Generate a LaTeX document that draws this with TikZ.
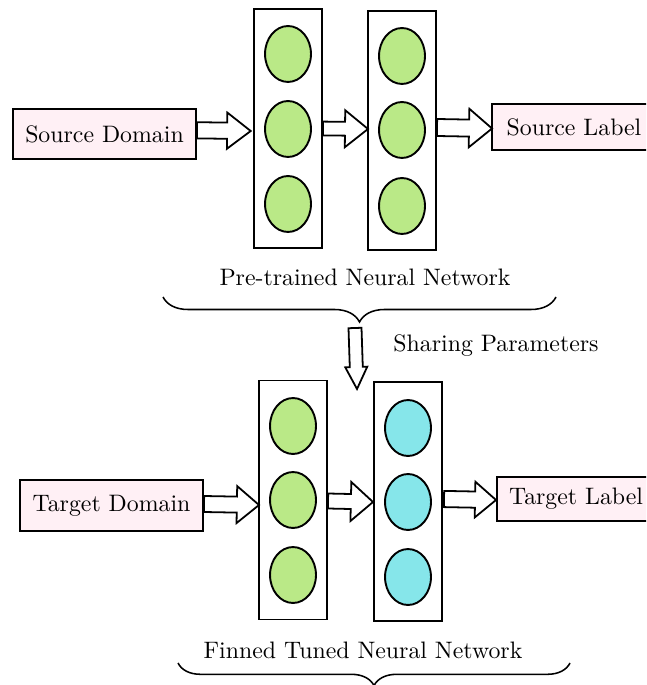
\documentclass[tikz,border=0pt]{standalone}
\usetikzlibrary{shapes.geometric,decorations.pathreplacing,calc}

\definecolor{boxpink}{RGB}{255,240,245}
\definecolor{unitgreen}{RGB}{186,233,135}
\definecolor{unitcyan}{RGB}{134,230,234}

% Block arrow from #1 to #2: shaft half-width #3, head half-width #4, head length #5
\newcommand\fatarr[5]{%
  \coordinate (fa-h) at ($(#2)!#5!(#1)$);
  \draw[blockarrow]
    ($(#1)!#3!90:(#2)$) -- ($(fa-h)!#3!90:(#2)$) -- ($(fa-h)!#4!90:(#2)$) --
    (#2) --
    ($(fa-h)!#4!-90:(#2)$) -- ($(fa-h)!#3!-90:(#2)$) -- ($(#1)!#3!-90:(#2)$) -- cycle;
}

\begin{document}
\begin{tikzpicture}[x=0.42pt,y=-0.42pt,
  iobox/.style={draw,line width=0.8pt,fill=boxpink,inner sep=0pt},
  layer/.style={draw,line width=0.8pt,minimum width=28.6pt,minimum height=100.4pt,inner sep=0pt},
  unit/.style={ellipse,draw,line width=0.8pt,minimum width=19.3pt,minimum height=23.5pt,inner sep=0pt},
  blockarrow/.style={draw,fill=white,line width=0.75pt,line join=miter},
  bracestyle/.style={draw,line width=0.65pt,decorate},
  caption/.style={inner sep=0pt}]

\useasboundingbox (0,0) rectangle (646,685);
\clip (0,0) rectangle (646,685);

% ---------- source network ----------
\node[iobox,minimum width=76.9pt,minimum height=21pt] (sd) at (104.5,134) {Source Domain};
\node[layer] (c1) at (288,128.5) {};
\node[layer] (c2) at (402,130.5) {};
\node[iobox,minimum width=68.9pt,minimum height=19.3pt] (sl) at (574,127) {Source Label};

\foreach \y [count=\i] in {54,129,204}
  \node[unit,fill=unitgreen] (c1u\i) at (288,\y) {};
\foreach \y [count=\i] in {56,130,206}
  \node[unit,fill=unitgreen] (c2u\i) at (402,\y) {};

\coordinate (a1s) at ($(sd.east)+(0,-3.7)$);
\coordinate (a1e) at ($(c1.west)+(-2.3,2.5)$);
\coordinate (a2s) at ($(c1.east)+(0,0)$);
\coordinate (a2e) at ($(c2.west)+(1,-1.5)$);
\coordinate (a3s) at ($(c2.east)+(0,-3)$);
\coordinate (a3e) at ($(sl.west)+(1,1.5)$);
\fatarr{a1s}{a1e}{3.4pt}{7.6pt}{9.9pt}
\fatarr{a2s}{a2e}{2.9pt}{7.77pt}{9.66pt}
\fatarr{a3s}{a3e}{3.57pt}{8.1pt}{9.66pt}

\node[caption] (pre) at (365,277) {Pre-trained Neural Network};
\coordinate (b1l) at (163,297);
\coordinate (b1r) at (556,297);
\path[bracestyle,decoration={brace,mirror,amplitude=10.5pt}] (b1l) -- (b1r);

% ---------- parameter sharing ----------
\coordinate (shs) at (355,328);
\coordinate (she) at (357,389);
\fatarr{shs}{she}{2.73pt}{4.62pt}{9.24pt}
\node[caption] (share) at (496,346) {Sharing Parameters};

% ---------- target network ----------
\node[iobox,minimum width=76.9pt,minimum height=21.4pt] (td) at (111.5,505.5) {Target Domain};
\node[layer] (c3) at (293,500) {};
\node[layer] (c4) at (408,501.5) {};
\node[iobox,minimum width=66.4pt,minimum height=18.5pt] (tl) at (576,499) {Target Label};

\foreach \y [count=\i] in {426,500,575}
  \node[unit,fill=unitgreen] (c3u\i) at (293,\y) {};
\foreach \y [count=\i] in {428,502,577}
  \node[unit,fill=unitcyan] (c4u\i) at (408,\y) {};

\coordinate (d1s) at ($(td.east)+(0,-1.5)$);
\coordinate (d1e) at ($(c3.west)+(1,5)$);
\coordinate (d2s) at ($(c3.east)+(0,1)$);
\coordinate (d2e) at ($(c4.west)+(0,0.5)$);
\coordinate (d3s) at ($(c4.east)+(1,-2.5)$);
\coordinate (d3e) at ($(tl.west)+(0,1)$);
\fatarr{d1s}{d1e}{3.36pt}{7.77pt}{9.3pt}
\fatarr{d2s}{d2e}{3.15pt}{8.2pt}{9.3pt}
\fatarr{d3s}{d3e}{3.4pt}{7.5pt}{8.8pt}

\node[caption] (fine) at (363,650) {Finned Tuned Neural Network};
\coordinate (b2l) at (178,663);
\coordinate (b2r) at (570,663);
\path[bracestyle,decoration={brace,mirror,amplitude=9.5pt}] (b2l) -- (b2r);

\end{tikzpicture}
\end{document}
